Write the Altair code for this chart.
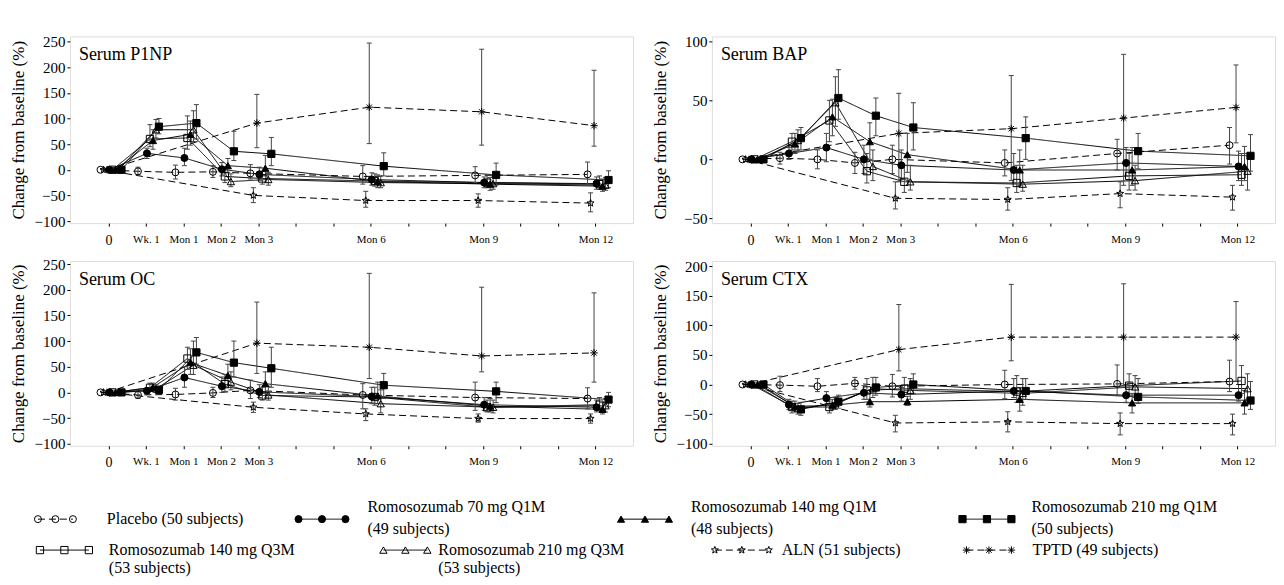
import altair as alt
import pandas as pd
import numpy as np

# ---------------- DATA ----------------
VISITS = ["0", "Wk. 1", "Mon 1", "Mon 2", "Mon 3", "Mon 6", "Mon 9", "Mon 12"]
VISIT_POS = [0, 1, 2, 3, 4, 7, 10, 13]
TICK_VALUES = list(range(0, 14))

SERIES = ["PBO", "R70Q1M", "R140Q1M", "R210Q1M", "R140Q3M", "R210Q3M", "ALN", "TPTD"]
LEGEND_LINE1 = ["Placebo (50 subjects)", "Romosozumab 70 mg Q1M", "Romosozumab 140 mg Q1M",
                "Romosozumab 210 mg Q1M", "Romosozumab 140 mg Q3M", "Romosozumab 210 mg Q3M",
                "ALN (51 subjects)", "TPTD (49 subjects)"]
LEGEND_LINE2 = ["", "(49 subjects)", "(48 subjects)", "(50 subjects)", "(53 subjects)",
                "(53 subjects)", "", ""]
PANELS = ["Serum P1NP", "Serum BAP", "Serum OC", "Serum CTX"]
N = None

P1NP_MEAN = {
    "PBO":     [0, -3, -5, -4, -7, -13, -11, -9],
    "R70Q1M":  [0, 32, 23, 1, -9, -19, -25, -27],
    "R140Q1M": [0, 57, 69, 8, 3, -23, -28, -32],
    "R210Q1M": [0, 84, 91, 36, 31, 7, -10, -20],
    "R140Q3M": [0, 60, 62, -13, -17, -22, -25, -28],
    "R210Q3M": [0, 78, 78, -23, -19, -25, -27, -30],
    "ALN":     [0, N, N, N, -50, -60, -60, -65],
    "TPTD":    [0, N, N, N, 91, 122, 113, 86],
}
P1NP_LO = {
    "PBO":     [N, -10, -18, -15, -18, -28, -25, -28],
    "R70Q1M":  [N, 22, 8, -12, -20, -30, -35, -38],
    "R140Q1M": [N, 40, 48, -5, -12, -35, -40, -42],
    "R210Q1M": [N, 70, 60, 18, 8, -12, -30, -35],
    "R140Q3M": [N, 45, 40, -25, -28, -32, -35, -38],
    "R210Q3M": [N, 62, 55, -33, -30, -35, -38, -40],
    "ALN":     [N, N, N, N, -64, -73, -73, -82],
    "TPTD":    [N, N, N, N, 43, 51, 48, 46],
}
P1NP_HI = {
    "PBO":     [N, 5, 9, 8, 10, 8, 6, 15],
    "R70Q1M":  [N, 42, 42, 14, 5, -6, -14, -14],
    "R140Q1M": [N, 78, 95, 22, 28, -10, -15, -18],
    "R210Q1M": [N, 100, 127, 75, 63, 33, 13, -2],
    "R140Q3M": [N, 88, 105, 0, -3, -8, -10, -12],
    "R210Q3M": [N, 98, 115, -8, -5, -12, -12, -15],
    "ALN":     [N, N, N, N, -35, -42, -47, -45],
    "TPTD":    [N, N, N, N, 147, 247, 235, 194],
}

BAP_MEAN = {
    "PBO":     [0, 1, 0, -3, 0, -3, 5, 12],
    "R70Q1M":  [0, 5, 10, 0, -5, -9, -3, -6],
    "R140Q1M": [0, 13, 36, 15, 4, -9, -9, -6],
    "R210Q1M": [0, 18, 52, 37, 27, 18, 7, 3],
    "R140Q3M": [0, 15, 33, -10, -19, -20, -14, -13],
    "R210Q3M": [0, 16, 48, -6, -19, -21, -18, -10],
    "ALN":     [0, N, N, N, -33, -34, -29, -32],
    "TPTD":    [0, N, N, N, 22, 26, 35, 44],
}
BAP_LO = {
    "PBO":     [N, -4, -8, -12, -12, -14, -9, -4],
    "R70Q1M":  [N, 0, -2, -12, -17, -20, -14, -18],
    "R140Q1M": [N, 5, 20, 0, -11, -22, -22, -18],
    "R210Q1M": [N, 8, 34, 20, 8, 0, -8, -10],
    "R140Q3M": [N, 8, 15, -20, -28, -28, -26, -22],
    "R210Q3M": [N, 8, 28, -18, -26, -27, -26, -26],
    "ALN":     [N, N, N, N, -42, -43, -41, -43],
    "TPTD":    [N, N, N, N, -19, -18, -22, 14],
}
BAP_HI = {
    "PBO":     [N, 6, 8, 6, 12, 8, 17, 27],
    "R70Q1M":  [N, 10, 22, 12, 8, 5, 10, 7],
    "R140Q1M": [N, 22, 51, 31, 22, 8, 10, 11],
    "R210Q1M": [N, 27, 76, 52, 48, 36, 22, 21],
    "R140Q3M": [N, 22, 50, 5, -5, -5, 5, 5],
    "R210Q3M": [N, 25, 70, 8, -5, -5, -5, 5],
    "ALN":     [N, N, N, N, -19, -24, -19, -22],
    "TPTD":    [N, N, N, N, 56, 71, 89, 80],
}

OC_MEAN = {
    "PBO":     [0, -5, -4, -1, 4, -5, -10, -12],
    "R70Q1M":  [0, 3, 29, 12, 1, -8, -24, -29],
    "R140Q1M": [0, 10, 58, 33, 17, -7, -27, -33],
    "R210Q1M": [0, 5, 78, 58, 47, 14, 2, -14],
    "R140Q3M": [0, 9, 66, 16, -6, -9, -29, -24],
    "R210Q3M": [0, 7, 53, 20, -5, -22, -29, -26],
    "ALN":     [0, N, N, N, -29, -42, -51, -51],
    "TPTD":    [0, N, N, N, 96, 88, 71, 77],
}
OC_LO = {
    "PBO":     [N, -12, -15, -10, -12, -32, -35, -32],
    "R70Q1M":  [N, -3, 10, 0, -10, -22, -35, -38],
    "R140Q1M": [N, 3, 35, 15, 0, -22, -38, -42],
    "R210Q1M": [N, -2, 55, 30, 10, -12, -20, -28],
    "R140Q3M": [N, 2, 45, 2, -15, -25, -38, -35],
    "R210Q3M": [N, 0, 35, 5, -15, -40, -40, -38],
    "ALN":     [N, N, N, N, -39, -55, -58, -60],
    "TPTD":    [N, N, N, N, 37, 27, 40, 20],
}
OC_HI = {
    "PBO":     [N, 2, 8, 10, 24, 17, 20, 9],
    "R70Q1M":  [N, 8, 50, 30, 15, 10, -10, -15],
    "R140Q1M": [N, 18, 85, 55, 40, 20, -12, -20],
    "R210Q1M": [N, 12, 107, 100, 88, 37, 20, 0],
    "R140Q3M": [N, 18, 88, 35, 10, 10, -15, -10],
    "R210Q3M": [N, 15, 100, 40, 12, 5, -15, -12],
    "ALN":     [N, N, N, N, -19, -32, -42, -42],
    "TPTD":    [N, N, N, N, 176, 232, 205, 194],
}

CTX_MEAN = {
    "PBO":     [0, -1, -3, 2, -3, 0, 1, 5],
    "R70Q1M":  [0, -34, -23, -14, -17, -11, -18, -18],
    "R140Q1M": [0, -37, -35, -29, -29, -25, -31, -31],
    "R210Q1M": [0, -42, -29, -5, 0, -11, -21, -27],
    "R140Q3M": [0, -38, -38, -10, -7, -12, -2, 6],
    "R210Q3M": [0, -41, -32, -7, -10, -15, -4, -7],
    "ALN":     [0, N, N, N, -65, -63, -66, -66],
    "TPTD":    [0, N, N, N, 59, 80, 80, 80],
}
CTX_LO = {
    "PBO":     [N, -12, -12, -8, -21, -24, -18, -12],
    "R70Q1M":  [N, -42, -33, -25, -28, -22, -30, -28],
    "R140Q1M": [N, -45, -42, -38, -35, -45, -48, -50],
    "R210Q1M": [N, -52, -40, -18, -15, -25, -32, -42],
    "R140Q3M": [N, -48, -48, -25, -20, -30, -20, -15],
    "R210Q3M": [N, -50, -42, -22, -25, -35, -22, -25],
    "ALN":     [N, N, N, N, -80, -80, -85, -85],
    "TPTD":    [N, N, N, N, 23, 40, -2, 5],
}
CTX_HI = {
    "PBO":     [N, 14, 10, 12, 17, 24, 33, 41],
    "R70Q1M":  [N, -25, -12, -2, -5, 10, 0, 0],
    "R140Q1M": [N, -28, -25, -15, -20, -5, -15, -10],
    "R210Q1M": [N, -30, -18, 12, 18, 10, 10, 5],
    "R140Q3M": [N, -28, -28, 10, 12, 15, 18, 32],
    "R210Q3M": [N, -32, -22, 12, 10, 10, 15, 18],
    "ALN":     [N, N, N, N, -52, -46, -48, -50],
    "TPTD":    [N, N, N, N, 135, 169, 170, 140],
}

# ---------------- LAYOUT / STYLE ----------------
FONT = "'Liberation Serif', 'Times New Roman', serif"
PW = 564
PH_TOP = 187
PH_BOT = 185
XDOM = [-1.03, 14.0]
PX_PER_UNIT = PW / (XDOM[1] - XDOM[0])
DODGE_PX = {"PBO": -8, "ALN": -5, "TPTD": -1.5, "R70Q1M": 1, "R140Q3M": 4,
            "R140Q1M": 7, "R210Q3M": 10, "R210Q1M": 13}
YDOMS = [[-104, 260], [-54, 104.2], [-104, 256], [-103.4, 208.4]]
YTICKS = [list(range(-100, 251, 50)), [-50, 0, 50, 100],
          list(range(-100, 251, 50)), list(range(-100, 201, 50))]
YTITLE = "Change from baseline (%)"
EB_COLOR = "#444444"
DASH = [7, 4]
SOLID = [1, 0]
DASHES = [DASH, SOLID, SOLID, SOLID, SOLID, SOLID, DASH, DASH]


def star_path(n=5, r_in=0.42):
    pts = []
    for k in range(2 * n):
        r = 1.0 if k % 2 == 0 else r_in
        a = -np.pi / 2 + k * np.pi / n
        pts.append(f"{r*np.cos(a):.3f},{r*np.sin(a):.3f}")
    return "M" + "L".join(pts) + "Z"


ASTERISK = "M-1,0L1,0M0,-1L0,1M-0.72,-0.72L0.72,0.72M-0.72,0.72L0.72,-0.72"
CAP = "M-1,0L1,0"
SHAPES = ["circle", "circle", "triangle-up", "square", "square", "triangle-up", star_path(), ASTERISK]
FILLS = ["transparent", "black", "black", "black", "transparent", "transparent", "transparent", "transparent"]
PT_SIZE = [49, 56, 81, 56, 52, 81, 90, 64]
LEG_SIZE = [100, 196, 225, 196, 150, 160, 180, 144]

shape_scale = alt.Scale(domain=SERIES, range=SHAPES)
fill_scale = alt.Scale(domain=SERIES, range=FILLS)
dash_scale = alt.Scale(domain=SERIES, range=DASHES)

label_expr = " : ".join(
    [f"datum.value == {p} ? '{t}'" for p, t in zip(VISIT_POS, VISITS)]) + " : ''"

xaxis = alt.Axis(values=TICK_VALUES, labelExpr=label_expr, title=None, tickSize=3,
                 labelPadding=7, labelOverlap=False, labelFlush=False, domain=False,
                 grid=False, labelColor="black", tickColor="black", labelFont=FONT,
                 labelFontSize={"condition": {"test": "datum.value == 0", "value": 14}, "value": 11})


def yaxis(ticks):
    return alt.Axis(values=ticks, title=YTITLE, titleFontSize=17, titleFont=FONT,
                    titleFontWeight="normal", titleColor="black", titlePadding=4,
                    labelFontSize=15, labelFont=FONT, labelColor="black", labelPadding=2,
                    tickSize=3, tickColor="black", domain=False, grid=False,
                    minExtent=38, maxExtent=38)


def panel(idx, mean, lo, hi, height):
    rows = []
    for s in SERIES:
        for i, v in enumerate(mean[s]):
            if v is None:
                continue
            rows.append(dict(series=s, pos=VISIT_POS[i] + DODGE_PX[s] / PX_PER_UNIT,
                             val=v, lo=lo[s][i], hi=hi[s][i]))
    df = pd.DataFrame(rows)
    base = alt.Chart(df)
    xs = alt.Scale(domain=XDOM, nice=False, zero=False)
    ys = alt.Scale(domain=YDOMS[idx], nice=False, zero=False)

    def X():
        return alt.X("pos:Q", scale=xs, axis=xaxis)

    def Y(field):
        return alt.Y(f"{field}:Q", scale=ys, axis=yaxis(YTICKS[idx]), title=YTITLE)

    lines = base.mark_line(color="black", strokeWidth=1).encode(
        x=X(), y=Y("val"),
        strokeDash=alt.StrokeDash("series:N", scale=dash_scale, legend=None),
        order="pos:Q")
    ebase = base.transform_filter("isValid(datum.lo)")
    rules = ebase.mark_rule(color=EB_COLOR, strokeWidth=1).encode(
        x=X(), y=Y("lo"), y2="hi:Q")
    cap_lo = ebase.mark_point(shape=CAP, size=25, stroke=EB_COLOR, strokeWidth=1,
                              filled=False, opacity=1).encode(x=X(), y=Y("lo"))
    cap_hi = ebase.mark_point(shape=CAP, size=25, stroke=EB_COLOR, strokeWidth=1,
                              filled=False, opacity=1).encode(x=X(), y=Y("hi"))
    pts = base.mark_point(filled=True, stroke="black", strokeWidth=1, opacity=1).encode(
        x=X(), y=Y("val"),
        shape=alt.Shape("series:N", scale=shape_scale, legend=None),
        fill=alt.Fill("series:N", scale=fill_scale, legend=None),
        size=alt.Size("series:N", scale=alt.Scale(domain=SERIES, range=PT_SIZE), legend=None))
    lab = alt.Chart(pd.DataFrame({"t": [PANELS[idx]]})).mark_text(
        align="left", baseline="middle", font=FONT, fontSize=18, color="black").encode(
        x=alt.value(9), y=alt.value(19), text="t:N")
    return alt.layer(lines, rules, cap_lo, cap_hi, pts, lab).properties(width=PW, height=height)


p1 = panel(0, P1NP_MEAN, P1NP_LO, P1NP_HI, PH_TOP)
p2 = panel(1, BAP_MEAN, BAP_LO, BAP_HI, PH_TOP)
p3 = panel(2, OC_MEAN, OC_LO, OC_HI, PH_BOT)
p4 = panel(3, CTX_MEAN, CTX_LO, CTX_HI, PH_BOT)

# ---------------- LEGEND (layout in page pixels) ----------------
LEG_TOP = 468.5
LEG_H = 105
LEG_LEFT = 68
LEG_W = 1206
LEG_SYM_X0 = [36, 297, 620, 962, 38, 382, 714, 966]
LEG_SYM_DX = [17.5, 23.5, 24, 24.5, 24.5, 22, 27, 22.5]
LEG_SYM_Y = [517, 517, 517, 517, 548, 548, 548, 548]
LEG_TEXT_X = [105, 366, 690, 1031, 107, 437, 781, 1032]
LEG_TEXT_Y1 = [517, 505, 505, 505, 548, 548, 548, 548]
LEG_TEXT_Y2 = [N, 527, 527, 527, 566, 566, N, N]

sym_rows, line_rows, text_rows = [], [], []
for i, s in enumerate(SERIES):
    for k in range(3):
        sym_rows.append(dict(series=s, x=LEG_SYM_X0[i] + k * LEG_SYM_DX[i], y=LEG_SYM_Y[i]))
    line_rows.append(dict(series=s, x=LEG_SYM_X0[i], x2=LEG_SYM_X0[i] + 2 * LEG_SYM_DX[i],
                          y=LEG_SYM_Y[i]))
    text_rows.append(dict(t=LEGEND_LINE1[i], x=LEG_TEXT_X[i], y=LEG_TEXT_Y1[i]))
    if LEGEND_LINE2[i]:
        text_rows.append(dict(t=LEGEND_LINE2[i], x=LEG_TEXT_X[i], y=LEG_TEXT_Y2[i]))

lx = alt.Scale(domain=[LEG_LEFT, LEG_LEFT + LEG_W], nice=False, zero=False)
ly = alt.Scale(domain=[LEG_TOP, LEG_TOP + LEG_H], nice=False, zero=False, reverse=True)

leg_lines = alt.Chart(pd.DataFrame(line_rows)).mark_rule(color="black", strokeWidth=1).encode(
    x=alt.X("x:Q", scale=lx, axis=None), x2="x2:Q", y=alt.Y("y:Q", scale=ly, axis=None),
    strokeDash=alt.StrokeDash("series:N", scale=dash_scale, legend=None))
leg_syms = alt.Chart(pd.DataFrame(sym_rows)).mark_point(
    filled=True, stroke="black", strokeWidth=1, opacity=1).encode(
    x=alt.X("x:Q", scale=lx, axis=None), y=alt.Y("y:Q", scale=ly, axis=None),
    shape=alt.Shape("series:N", scale=shape_scale, legend=None),
    fill=alt.Fill("series:N", scale=fill_scale, legend=None),
    size=alt.Size("series:N", scale=alt.Scale(domain=SERIES, range=LEG_SIZE), legend=None))
leg_text = alt.Chart(pd.DataFrame(text_rows)).mark_text(
    align="left", baseline="middle", font=FONT, fontSize=16, color="black").encode(
    x=alt.X("x:Q", scale=lx, axis=None), y=alt.Y("y:Q", scale=ly, axis=None), text="t:N")
legend = alt.layer(leg_lines, leg_syms, leg_text).properties(
    width=LEG_W, height=LEG_H, view=alt.ViewBackground(strokeOpacity=0))

row1 = alt.hconcat(p1, p2, spacing=17)
row2 = alt.hconcat(p3, p4, spacing=17)
grid = alt.vconcat(row1, row2, spacing=8)
chart = alt.vconcat(grid, legend, spacing=0).properties(
    padding={"left": 1, "top": 25, "right": 0, "bottom": 0}
).configure_view(stroke="black", strokeWidth=1).configure(font=FONT, background="white")

chart.save("out.html", embed_options={"renderer": "svg", "actions": False})
